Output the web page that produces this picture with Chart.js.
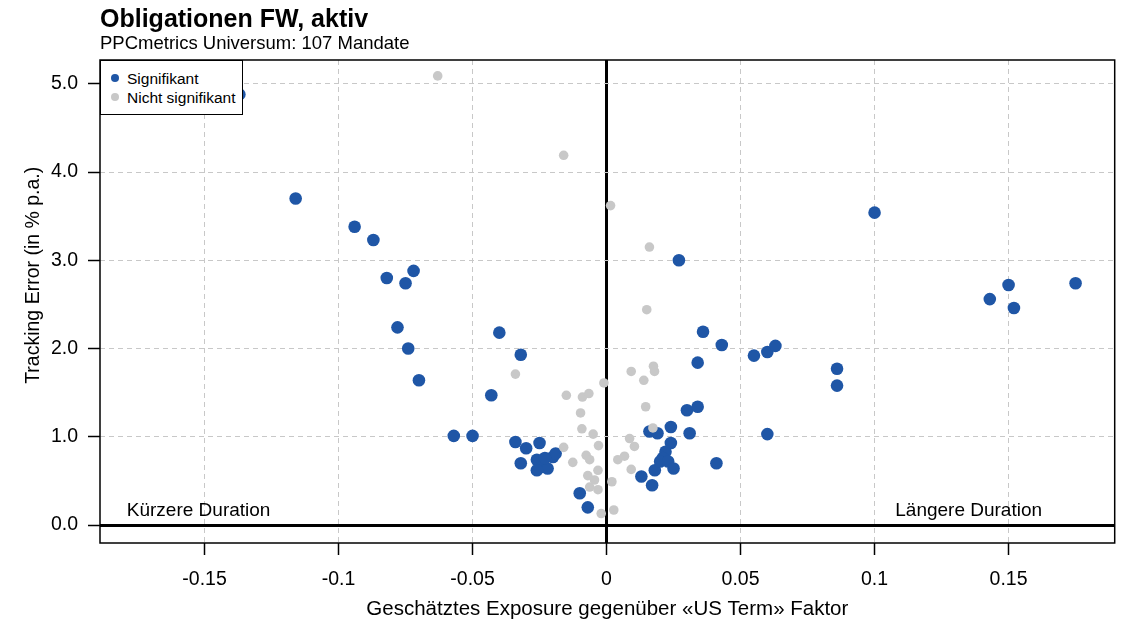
<!DOCTYPE html>
<html>
<head>
<meta charset="utf-8">
<script src="https://cdn.jsdelivr.net/npm/chart.js@4/dist/chart.umd.min.js"></script>
<style>
  body { margin: 0; background: #fff; }
  #wrap { position: relative; width: 1121px; height: 621px; font-family: "Liberation Sans", Arial, sans-serif; }
  #title { position: absolute; left: 100px; top: 3px; font-size: 25px; font-weight: bold; line-height: 30px; color: #000; }
  #subtitle { position: absolute; left: 100px; top: 32px; font-size: 18.5px; line-height: 22px; color: #000; }
  #legend { position: absolute; left: 100px; top: 60px; width: 143px; height: 55px; box-sizing: border-box; padding-top: 8px; border: 1.5px solid #000; background: #fff; font-size: 15.5px; color: #000; }
  #legend div { position: relative; height: 19px; line-height: 19px; padding-left: 26px; }
  #legend span { position: absolute; left: 10px; top: 5px; width: 8px; height: 8px; border-radius: 50%; }
</style>
</head>
<body>
<div id="wrap">
  <canvas id="chart" width="1121" height="621"></canvas>
  <div id="title">Obligationen FW, aktiv</div>
  <div id="subtitle">PPCmetrics Universum: 107 Mandate</div>
  <div id="legend"></div>
</div>
<script>
// Exposure (x) und Tracking Error (y)
let sigX = [-0.137, -0.116, -0.094, -0.087, -0.082, -0.072, -0.075, -0.078, -0.074, -0.070,
            -0.057, -0.050, -0.043, -0.040, -0.032, -0.034, -0.030, -0.025, -0.032, -0.026,
            -0.024, -0.022, -0.020, -0.019, -0.023, -0.026, -0.010, -0.007, 0.013, 0.017,
            0.018, 0.016, 0.019, 0.024, 0.024, 0.022, 0.021, 0.020, 0.023, 0.025,
            0.031, 0.030, 0.034, 0.034, 0.036, 0.043, 0.027, 0.041, 0.055, 0.060,
            0.063, 0.060, 0.086, 0.086, 0.100, 0.143, 0.150, 0.152, 0.175];
let sigY = [4.88, 3.70, 3.38, 3.23, 2.80, 2.88, 2.74, 2.24, 2.00, 1.64,
            1.01, 1.01, 1.47, 2.18, 1.93, 0.94, 0.87, 0.93, 0.70, 0.74,
            0.66, 0.64, 0.77, 0.81, 0.76, 0.62, 0.36, 0.20, 0.55, 0.45,
            0.62, 1.06, 1.04, 1.11, 0.93, 0.83, 0.76, 0.72, 0.72, 0.64,
            1.04, 1.30, 1.34, 1.84, 2.19, 2.04, 3.00, 0.70, 1.92, 1.96,
            2.03, 1.03, 1.77, 1.58, 3.54, 2.56, 2.72, 2.46, 2.74];

let nsX = [-0.063, -0.016, 0.0015, 0.016, 0.015, -0.034, -0.015, -0.009, -0.0066, -0.001,
           -0.0097, -0.0092, -0.005, -0.016, -0.003, -0.0126, -0.0076, -0.0063, -0.0032, -0.007,
           -0.0045, -0.0063, -0.0032, 0.002, -0.002, 0.0027, 0.0086, 0.0104, 0.0067, 0.0042,
           0.0092, 0.0092, 0.0139, 0.0175, 0.0179, 0.0146, 0.0173];
let nsY = [5.09, 4.19, 3.62, 3.15, 2.44, 1.71, 1.47, 1.45, 1.49, 1.61,
           1.27, 1.09, 1.03, 0.88, 0.90, 0.71, 0.79, 0.74, 0.62, 0.56,
           0.51, 0.43, 0.40, 0.49, 0.13, 0.17, 0.98, 0.89, 0.78, 0.74,
           0.63, 1.74, 1.64, 1.80, 1.74, 1.34, 1.10];

let seriesNames = ['Signifikant', 'Nicht signifikant'];
let xTicks = [-0.15, -0.1, -0.05, 0, 0.05, 0.1, 0.15];
let xTickLabels = ['-0.15', '-0.1', '-0.05', '0', '0.05', '0.1', '0.15'];
let yTicks = [0, 1, 2, 3, 4, 5];
let yTickLabels = ['0.0', '1.0', '2.0', '3.0', '4.0', '5.0'];

const BLUE = '#1f56a6';
const GREY = '#c8c8c8';
const FONT = '"Liberation Sans", Arial, sans-serif';

function toPoints(xs, ys) {
    return xs.map((x, i) => ({x: x, y: ys[i]}));
}

// Rahmen, y-Achsentitel und Beschriftungen "Kürzere/Längere Duration"
const frame = {
    id: 'frame',
    afterDraw(chart) {
        const {ctx, chartArea: a, scales} = chart;
        ctx.save();
        ctx.strokeStyle = '#000';
        ctx.lineWidth = 1.5;
        ctx.strokeRect(a.left, a.top, a.right - a.left, a.bottom - a.top);

        ctx.fillStyle = '#000';
        ctx.font = '19px ' + FONT;
        ctx.textBaseline = 'middle';
        const ty = scales.y.getPixelForValue(0.16);
        ctx.textAlign = 'left';
        ctx.fillText('Kürzere Duration', scales.x.getPixelForValue(-0.179), ty);
        ctx.textAlign = 'right';
        ctx.fillText('Längere Duration', scales.x.getPixelForValue(0.1625), ty);

        ctx.font = '19.5px ' + FONT;
        ctx.textAlign = 'center';
        ctx.translate(34, scales.y.getPixelForValue(2.83));
        ctx.rotate(-Math.PI / 2);
        ctx.fillText('Tracking Error (in % p.a.)', 0, 0);
        ctx.restore();
    }
};

function gridStyle() {
    return {
        color: c => (c.tick && c.tick.value === 0) ? '#000' : GREY,
        lineWidth: c => (c.tick && c.tick.value === 0) ? 3 : 1,
        tickColor: '#000',
        tickWidth: 1.5,
        tickLength: 12,
        drawTicks: true
    };
}

let ctx = document.getElementById('chart');
let myChart = new Chart(ctx, {
    type: 'scatter',
    data: {
        datasets: [{
            label: seriesNames[0],
            data: toPoints(sigX, sigY),
            backgroundColor: BLUE,
            pointRadius: 6.3,
            pointBorderWidth: 0,
            order: 1
        }, {
            label: seriesNames[1],
            data: toPoints(nsX, nsY),
            backgroundColor: GREY,
            pointRadius: 4.8,
            pointBorderWidth: 0,
            order: 0
        }]
    },
    plugins: [frame],
    options: {
        responsive: false,
        animation: false,
        layout: {padding: {top: 60, right: 6, bottom: 0, left: 0}},
        plugins: {legend: {display: false}, tooltip: {enabled: false}},
        scales: {
            x: {
                type: 'linear',
                min: -0.189,
                max: 0.1896,
                z: 1,
                afterBuildTicks: s => { s.ticks = xTicks.map(v => ({value: v})); },
                afterFit: s => { s.height = 78; },
                grid: gridStyle(),
                border: {display: false, dash: c => (c.tick && c.tick.value === 0) ? [] : [5, 4]},
                ticks: {
                    color: '#000',
                    padding: 13,
                    maxRotation: 0,
                    font: {family: FONT, size: 19.5},
                    callback: (v, i) => xTickLabels[i]
                },
                title: {
                    display: true,
                    text: 'Geschätztes Exposure gegenüber «US Term» Faktor',
                    color: '#000',
                    font: {family: FONT, size: 20.5},
                    padding: {top: 0, bottom: -1}
                }
            },
            y: {
                type: 'linear',
                min: -0.204,
                max: 5.27,
                z: 1,
                afterBuildTicks: s => { s.ticks = yTicks.map(v => ({value: v})); },
                afterFit: s => { s.width = 100; },
                grid: gridStyle(),
                border: {display: false, dash: c => (c.tick && c.tick.value === 0) ? [] : [5, 4]},
                ticks: {
                    color: '#000',
                    padding: 10,
                    font: {family: FONT, size: 19.5},
                    callback: (v, i) => yTickLabels[i]
                }
            }
        }
    }
});

// Legende oben links in der Plotfläche
let legend = document.getElementById('legend');
myChart.data.datasets.forEach(ds => {
    let row = document.createElement('div');
    let dot = document.createElement('span');
    dot.style.background = ds.backgroundColor;
    row.appendChild(dot);
    row.appendChild(document.createTextNode(ds.label));
    legend.appendChild(row);
});
</script>
</body>
</html>
